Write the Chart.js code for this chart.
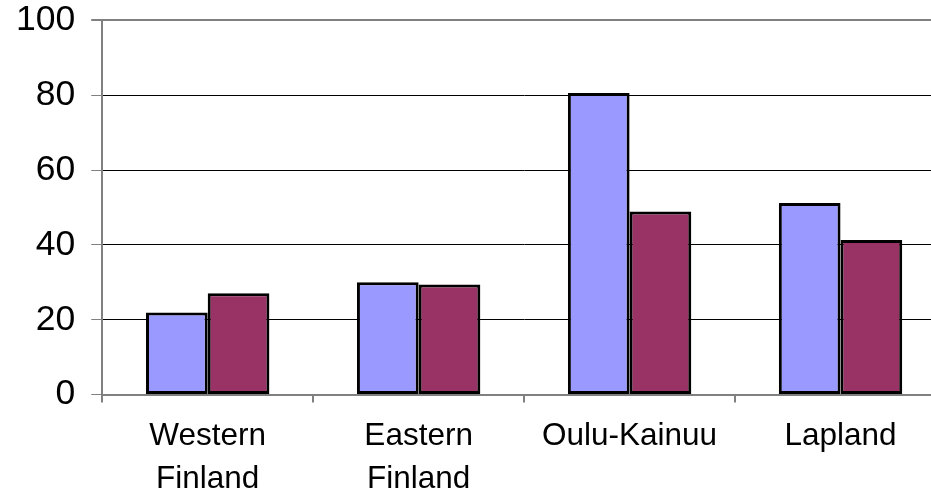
<!DOCTYPE html>
<html>
<head>
<meta charset="utf-8">
<script src="https://cdn.jsdelivr.net/npm/chart.js@4/dist/chart.umd.min.js"></script>
<style>
  html, body { margin: 0; padding: 0; background: #fff; overflow: hidden; }
  #wrap { width: 955px; height: 530px; margin-top: -17px; }
</style>
</head>
<body>
<div id="wrap"><canvas id="chart"></canvas></div>
<script>
/* ---------- data ---------- */
const categories = [["Western", "Finland"], ["Eastern", "Finland"], "Oulu-Kainuu", "Lapland"];
const seriesA = [21.9, 30.0, 80.6, 51.2];
const seriesB = [27.1, 29.4, 48.9, 41.3];
const yTicks = [0, 20, 40, 60, 80, 100];

const FONT = "'Liberation Sans', Arial, sans-serif";

new Chart(document.getElementById("chart"), {
  type: "bar",
  data: {
    labels: categories,
    datasets: [
      { label: "A", data: seriesA, backgroundColor: "#9999FF", borderColor: "#000", borderWidth: 3, borderSkipped: false },
      { label: "B", data: seriesB, backgroundColor: "#993366", borderColor: "#000", borderWidth: 3, borderSkipped: false }
    ]
  },
  options: {
    responsive: true,
    maintainAspectRatio: false,
    animation: false,
    layout: { padding: { top: 3, left: 0, right: 9, bottom: 0 } },
    plugins: { legend: { display: false }, tooltip: { enabled: false } },
    datasets: { bar: { categoryPercentage: 0.585, barPercentage: 1 } },
    scales: {
      x: {
        grid: { display: true, drawOnChartArea: false, offset: true, tickLength: 8, tickColor: "#808080", lineWidth: 2 },
        border: { color: "#808080", width: 2 },
        ticks: { color: "#000", font: { family: FONT, size: 31.5, lineHeight: 1.34 }, padding: 13, maxRotation: 0 }
      },
      y: {
        min: 0, max: 100,
        afterBuildTicks: axis => { axis.ticks = yTicks.map(v => ({ value: v })); },
        grid: {
          color: ctx => ctx.tick && ctx.tick.value === 100 ? "#808080" : "#000",
          lineWidth: ctx => ctx.tick && ctx.tick.value === 100 ? 2 : 1,
          tickLength: 11, tickColor: "#808080"
        },
        border: { color: "#808080", width: 2 },
        ticks: { color: "#000", font: { family: FONT, size: 35.5 }, padding: 16 }
      }
    }
  }
});
</script>
</body>
</html>
